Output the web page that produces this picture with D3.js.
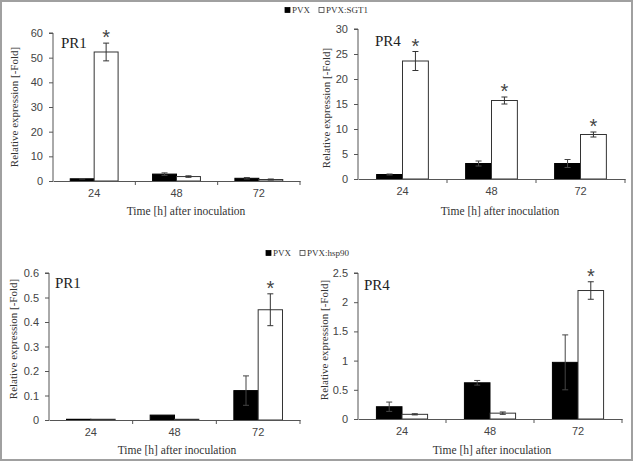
<!DOCTYPE html>
<html><head><meta charset="utf-8">
<script src="https://cdn.jsdelivr.net/npm/d3@7"></script>
<style>body{margin:0;background:#fff}svg{display:block}</style>
</head><body>
<svg id="c" width="634" height="462"></svg>
<script>
// ---- data ----
const categories = ["24", "48", "72"];
const topSeries = ["PVX", "PVX:SGT1"];
const bottomSeries = ["PVX", "PVX:hsp90"];

const sgtPR1_PVX = [0.9, 2.8, 1.1];
const sgtPR1_PVXErr = [0.1, 0.5, 0.3];
const sgtPR1_SGT1 = [52.3, 1.8, 0.6];
const sgtPR1_SGT1Err = [3.6, 0.3, 0.2];
const sgtPR1_star = [false, false, false, true, false, false];

const sgtPR4_PVX = [0.9, 3.1, 3.1];
const sgtPR4_PVXErr = [0.1, 0.5, 0.8];
const sgtPR4_SGT1 = [23.6, 15.7, 8.9];
const sgtPR4_SGT1Err = [1.9, 0.7, 0.5];
const sgtPR4_star = [false, false, false, true, true, true];

const hspPR1_PVX = [0.003, 0.02, 0.12];
const hspPR1_PVXErr = [0, 0, 0.06];
const hspPR1_hsp90 = [0.003, 0.003, 0.45];
const hspPR1_hsp90Err = [0, 0, 0.065];
const hspPR1_star = [false, false, false, false, false, true];

const hspPR4_PVX = [0.21, 0.62, 0.97];
const hspPR4_PVXErr = [0.08, 0.04, 0.47];
const hspPR4_hsp90 = [0.08, 0.10, 2.2];
const hspPR4_hsp90Err = [0.01, 0.02, 0.15];
const hspPR4_star = [false, false, false, false, false, true];

const ticksTL = [0, 10, 20, 30, 40, 50, 60];
const ticksTR = [0, 5, 10, 15, 20, 25, 30];
const ticksBL = [0, 0.1, 0.2, 0.3, 0.4, 0.5, 0.6];
const ticksBR = [0, 0.5, 1, 1.5, 2, 2.5];

const yTitle = "Relative expression [-Fold]";
const xTitle = "Time [h] after inoculation";

// ---- layout ----
const svg = d3.select("#c");
const serif = "Liberation Serif, DejaVu Serif, Times New Roman";
const sans = "Liberation Sans, Arial, DejaVu Sans";

svg.append("rect").attr("x", 1).attr("y", 1).attr("width", 631).attr("height", 459)
  .attr("fill", "none").attr("stroke", "#a0a0a0").attr("stroke-width", 2);

const panels = [
  {label: "PR1", x0: 53, x1: 300, y0: 181, y1: 33, max: 60, ticks: ticksTL,
   s: [sgtPR1_PVX, sgtPR1_SGT1], e: [sgtPR1_PVXErr, sgtPR1_SGT1Err], star: sgtPR1_star,
   lab: [61, 48], xt: [186, 215], yt: [14, 107]},
  {label: "PR4", x0: 358, x1: 625, y0: 179, y1: 29, max: 30, ticks: ticksTR,
   s: [sgtPR4_PVX, sgtPR4_SGT1], e: [sgtPR4_PVXErr, sgtPR4_SGT1Err], star: sgtPR4_star,
   lab: [375, 46], xt: [500, 215], yt: [326, 108]},
  {label: "PR1", x0: 49, x1: 300, y0: 420, y1: 273, max: 0.6, ticks: ticksBL,
   s: [hspPR1_PVX, hspPR1_hsp90], e: [hspPR1_PVXErr, hspPR1_hsp90Err], star: hspPR1_star,
   lab: [55, 288], xt: [177, 454], yt: [13, 339]},
  {label: "PR4", x0: 358, x1: 622, y0: 419, y1: 273, max: 2.5, ticks: ticksBR,
   s: [hspPR4_PVX, hspPR4_hsp90], e: [hspPR4_PVXErr, hspPR4_hsp90Err], star: hspPR4_star,
   lab: [364, 290], xt: [492, 454], yt: [324, 340]}
];

const fills = ["#000", "#fff"];

panels.forEach(p => {
  const g = svg.append("g");
  const x = d3.scaleBand().domain(categories).range([p.x0, p.x1]).padding(0);
  const xs = d3.scaleBand().domain([0, 1]).range([0, x.bandwidth()]).paddingInner(0).paddingOuter(0.72);
  const y = d3.scaleLinear().domain([0, p.max]).range([p.y0, p.y1]);

  // y axis
  const ya = g.append("g").attr("transform", `translate(${p.x0},0)`)
    .call(d3.axisLeft(y).tickValues(p.ticks).tickSize(4).tickPadding(6).tickFormat(d3.format("~g")));
  ya.select(".domain").attr("stroke", "#555").attr("d", `M-4,${p.y1}H0V${p.y0}`);
  ya.selectAll(".tick line").attr("stroke", "#555");
  ya.selectAll("text").attr("font-family", sans).attr("font-size", 11).attr("fill", "#444");

  // bars
  categories.forEach((c, i) => {
    [0, 1].forEach(k => {
      const v = p.s[k][i], er = p.e[k][i];
      const bx = x(c) + xs(k), bw = xs.bandwidth();
      g.append("rect").attr("x", bx).attr("y", y(v)).attr("width", bw)
        .attr("height", Math.max(0, p.y0 - y(v)))
        .attr("fill", fills[k]).attr("stroke", k ? "#333" : "#000").attr("stroke-width", 1);
      const cx = bx + bw / 2;
      if (er > 0) {
        const top = y(v + er), bot = y(Math.max(0, v - er));
        g.append("path").attr("d", `M${cx},${top}V${bot}M${cx - 3},${top}H${cx + 3}M${cx - 3},${bot}H${cx + 3}`)
          .attr("stroke", k ? "#333" : "#444").attr("stroke-width", 1).attr("fill", "none");
      }
      if (p.star[k * 3 + i]) {
        g.append("text").attr("x", cx).attr("y", y(v + er) + 1).attr("text-anchor", "middle")
          .attr("font-family", sans).attr("font-size", 20).attr("fill", "#444").text("*");
      }
    });
  });

  // x axis
  const xa = g.append("g").attr("transform", `translate(0,${p.y0})`)
    .call(d3.axisBottom(x).tickSize(0).tickPadding(8));
  xa.select(".domain").attr("stroke", "#555");
  xa.selectAll("text").attr("font-family", sans).attr("font-size", 11).attr("fill", "#444");
  categories.forEach((c, i) => {
    if (i > 0) g.append("line").attr("x1", x(c)).attr("x2", x(c)).attr("y1", p.y0).attr("y2", p.y0 + 4).attr("stroke", "#555");
  });
  g.append("line").attr("x1", p.x1).attr("x2", p.x1).attr("y1", p.y0).attr("y2", p.y0 + 4).attr("stroke", "#555");

  g.append("text").attr("x", p.lab[0]).attr("y", p.lab[1]).attr("font-family", serif)
    .attr("font-size", 15).attr("fill", "#222").text(p.label);
  g.append("text").attr("x", p.xt[0]).attr("y", p.xt[1]).attr("text-anchor", "middle")
    .attr("font-family", serif).attr("font-size", 11.5).attr("fill", "#333").text(xTitle);
  g.append("text").attr("transform", `translate(${p.yt[0]},${p.yt[1]}) rotate(-90)`).attr("text-anchor", "middle")
    .attr("dominant-baseline", "central")
    .attr("font-family", serif).attr("font-size", 11).attr("fill", "#333").text(yTitle);
});

// legends
function legend(series, items) {
  series.forEach((s, k) => {
    const it = items[k];
    svg.append("rect").attr("x", it[0]).attr("y", it[1] - 2.5).attr("width", 5).attr("height", 5)
      .attr("fill", fills[k]).attr("stroke", k ? "#444" : "#000").attr("stroke-width", 0.8);
    svg.append("text").attr("x", it[0] + 7).attr("y", it[1]).attr("dominant-baseline", "central")
      .attr("font-family", serif).attr("font-size", 9).attr("fill", "#333").text(s);
  });
}
legend(topSeries, [[285, 10], [319, 10]]);
legend(bottomSeries, [[266, 253], [300, 253]]);
</script>
</body></html>
